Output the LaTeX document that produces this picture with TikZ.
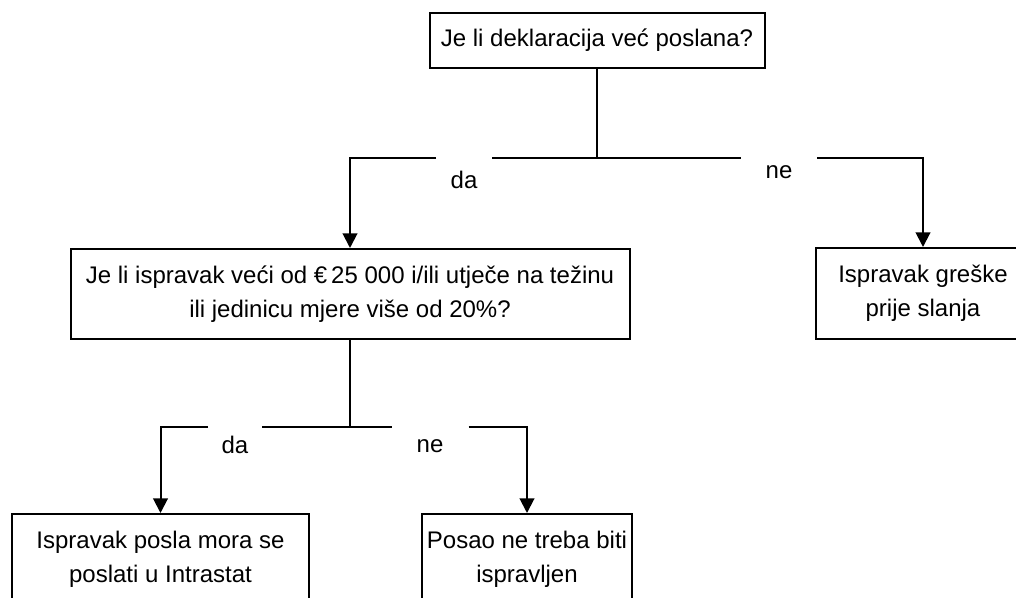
\documentclass[tikz,border=0pt]{standalone}
\usepackage{fontspec}
\setmainfont{Liberation Sans}
\usetikzlibrary{arrows.meta}

\tikzset{every picture/.style={line width=1.5pt}}
\tikzset{
  box/.style={draw, rectangle, align=center, inner sep=0pt, font=\fontsize{18}{25.5}\selectfont},
  lbl/.style={inner sep=0pt, font=\fontsize{18}{25.5}\selectfont},
  conn/.style={-{Triangle[length=11pt,width=11pt]}}
}

\begin{document}
\begin{tikzpicture}[x=0.75pt,y=0.75pt,yscale=-1,xscale=1]
        \useasboundingbox (0,0) rectangle (1016,598);
        % boxes
        \node[box, minimum width=251.25pt, minimum height=41.25pt] (q1) at (597,40.5) {Je li deklaracija već poslana?};
        \node[box, minimum width=419.25pt, minimum height=67.5pt] (q2) at (350,294) {Je li ispravak veći od €\,25 000 i/ili utječe na težinu\\ili jedinicu mjere više od 20\%?};
        \node[box, minimum width=160.5pt, minimum height=68.25pt] (r1) at (923,293.5) {Ispravak greške\\prije slanja};
        \node[box, minimum width=222.75pt, minimum height=67.5pt] (a1) at (160.5,559) {Ispravak posla mora se\\poslati u Intrastat};
        \node[box, minimum width=157.5pt, minimum height=67.5pt] (a2) at (527,559) {Posao ne treba biti\\ispravljen};
        % labels
        \node[lbl, minimum width=40.5pt] (da1) at (464,180) {da};
        \node[lbl, minimum width=55.5pt] (ne1) at (779,172) {ne};
        \node[lbl, minimum width=39pt] (da2) at (235,445) {da};
        \node[lbl, minimum width=56.25pt] (ne2) at (430,446) {ne};
        % junctions
        \coordinate (j1) at (q1.south |- 0,158);
        \coordinate (j2) at (q2.south |- 0,427);
        % connectors
        \draw (q1.south) -- (j1);
        \draw[conn] (da1.west |- j1) -| (q2.north);
        \draw (da1.east |- j1) -- (ne1.west |- j1);
        \draw[conn] (ne1.east |- j1) -| (r1.north);
        \draw (q2.south) -- (j2);
        \draw[conn] (da2.west |- j2) -| (a1.north);
        \draw (da2.east |- j2) -- (ne2.west |- j2);
        \draw[conn] (ne2.east |- j2) -| (a2.north);
\end{tikzpicture}
\end{document}
